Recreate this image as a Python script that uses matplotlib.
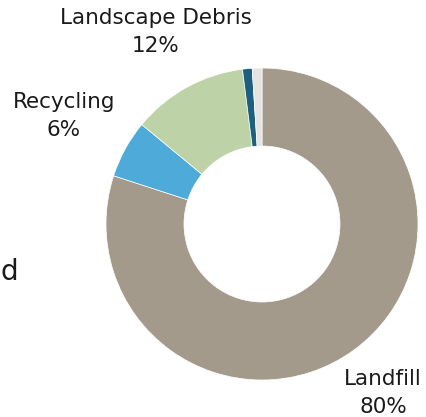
import matplotlib
matplotlib.use("Agg")
import matplotlib.pyplot as plt

# waste stream shares (%), clockwise from 12 o'clock
streams = ["Landfill", "Recycling", "Landscape Debris", "Other", "Misc"]
shares = [80, 6, 12, 1, 1]
colors = ["#a39a8b", "#4eaad9", "#bdd2a7", "#1e5f80", "#e3e3e1"]

# only the big three get labels
label_names = ["Landfill", "Recycling", "Landscape Debris"]
label_pct = [80, 6, 12]
label_pos = [(383, 393), (64, 116), (156, 32)]  # pixel, y from top

W, H = 427, 417
fig = plt.figure(figsize=(W / 100, H / 100), dpi=100)
ax = fig.add_axes([0, 0, 1, 1])
ax.axis("off")

ax.pie(shares, colors=colors, startangle=90, counterclock=False,
       center=(262, H - 224), radius=156,
       wedgeprops=dict(width=78, edgecolor="white", linewidth=0.5))
ax.set_xlim(0, W)
ax.set_ylim(0, H)
ax.set_aspect("equal")

for name, pct, (x, y) in zip(label_names, label_pct, label_pos):
    ax.text(x, H - y, f"{name}\n{pct}%", ha="center", va="center",
            fontsize=15.5, color="#1a1a1a", linespacing=1.45,
            family="DejaVu Sans")

# tail of a label from the neighbouring panel
ax.text(0, H - 272, "d", ha="left", va="center", fontsize=20,
        color="#1a1a1a", family="DejaVu Sans")

fig.savefig("out.png", dpi=100)
